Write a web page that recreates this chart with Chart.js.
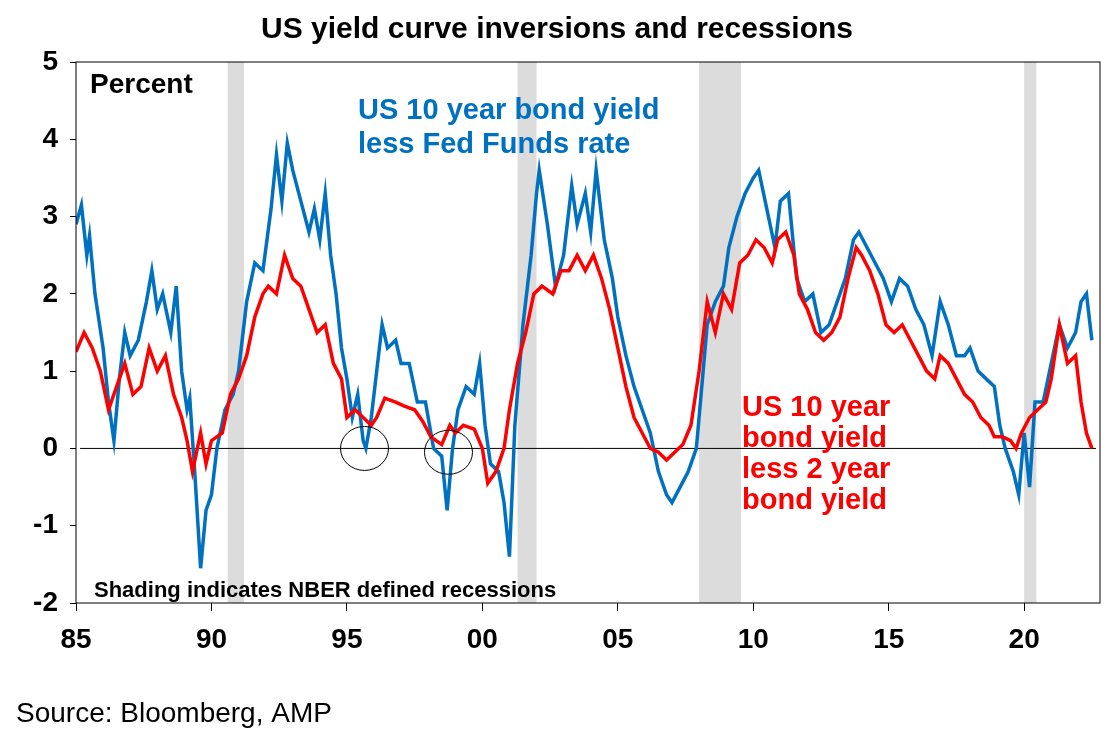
<!DOCTYPE html>
<html>
<head>
<meta charset="utf-8">
<script src="https://cdn.jsdelivr.net/npm/chart.js@4.4.0/dist/chart.umd.min.js"></script>
<style>
  html, body { margin: 0; padding: 0; background: #fff; }
  #wrap { width: 1106px; height: 742px; }
</style>
</head>
<body>
<div id="wrap"><canvas id="yieldChart" width="1106" height="742"></canvas></div>
<script>
// 10y bond yield less Fed Funds rate (approx)
const ffYears = [1985.0,1985.2,1985.4,1985.5,1985.7,1986.0,1986.2,1986.4,1986.6,1986.8,1987.0,1987.3,1987.6,1987.8,1988.0,1988.2,1988.5,1988.7,1988.9,1989.1,1989.2,1989.4,1989.6,1989.8,1990.0,1990.2,1990.5,1990.8,1991.0,1991.3,1991.6,1991.9,1992.2,1992.4,1992.6,1992.8,1993.0,1993.3,1993.6,1993.8,1994.0,1994.2,1994.4,1994.6,1994.8,1995.0,1995.2,1995.4,1995.6,1995.7,1995.9,1996.1,1996.3,1996.5,1996.8,1997.0,1997.3,1997.6,1997.9,1998.2,1998.5,1998.7,1998.9,1999.1,1999.4,1999.7,1999.9,2000.1,2000.3,2000.6,2000.8,2001.0,2001.2,2001.5,2001.8,2002.0,2002.1,2002.4,2002.7,2003.0,2003.3,2003.5,2003.8,2004.0,2004.2,2004.5,2004.8,2005.0,2005.3,2005.6,2005.9,2006.2,2006.5,2006.8,2007.0,2007.3,2007.6,2007.9,2008.1,2008.3,2008.6,2008.9,2009.1,2009.4,2009.7,2010.0,2010.2,2010.5,2010.8,2011.0,2011.3,2011.6,2011.9,2012.2,2012.5,2012.8,2013.0,2013.4,2013.7,2013.9,2014.2,2014.5,2014.8,2015.1,2015.4,2015.7,2016.0,2016.3,2016.6,2016.9,2017.2,2017.5,2017.8,2018.0,2018.3,2018.6,2018.9,2019.1,2019.3,2019.6,2019.8,2020.0,2020.2,2020.4,2020.7,2021.0,2021.3,2021.6,2021.9,2022.1,2022.3,2022.5];
const ffValues = [2.9,3.15,2.5,2.75,2.0,1.3,0.6,0.1,0.9,1.5,1.2,1.4,1.9,2.3,1.8,2.0,1.5,2.1,1.0,0.5,0.65,-0.4,-1.55,-0.8,-0.6,0.0,0.5,0.7,1.0,1.9,2.4,2.3,3.1,3.8,3.2,3.95,3.6,3.2,2.8,3.1,2.7,3.3,2.5,2.0,1.3,0.9,0.4,0.7,0.1,0.0,0.4,1.0,1.6,1.3,1.4,1.1,1.1,0.6,0.6,0.0,-0.1,-0.8,0.0,0.5,0.8,0.7,1.1,0.3,-0.2,-0.3,-0.7,-1.4,0.3,1.6,2.5,3.3,3.6,2.9,2.1,2.5,3.4,2.9,3.3,2.8,3.6,2.7,2.2,1.7,1.2,0.8,0.5,0.2,-0.3,-0.6,-0.7,-0.5,-0.3,0.0,0.8,1.6,1.9,2.1,2.6,3.0,3.3,3.5,3.6,3.1,2.6,3.2,3.3,2.2,1.9,2.0,1.5,1.6,1.8,2.2,2.7,2.8,2.6,2.4,2.2,1.9,2.2,2.1,1.8,1.6,1.2,1.9,1.6,1.2,1.2,1.3,1.0,0.9,0.8,0.3,0.0,-0.3,-0.6,0.2,-0.5,0.6,0.6,1.1,1.6,1.3,1.5,1.9,2.0,1.4];

// 10y bond yield less 2y bond yield
const tsYears = [1985.0,1985.3,1985.6,1985.9,1986.2,1986.5,1986.8,1987.1,1987.4,1987.7,1988.0,1988.3,1988.6,1988.9,1989.1,1989.3,1989.6,1989.8,1990.0,1990.4,1990.7,1991.0,1991.3,1991.6,1991.9,1992.1,1992.4,1992.7,1993.0,1993.3,1993.6,1993.9,1994.2,1994.5,1994.8,1995.0,1995.3,1995.6,1995.9,1996.1,1996.4,1996.8,1997.1,1997.5,1997.8,1998.1,1998.5,1998.8,1999.0,1999.3,1999.7,2000.0,2000.2,2000.5,2000.8,2001.0,2001.3,2001.6,2001.9,2002.2,2002.6,2002.9,2003.2,2003.5,2003.8,2004.1,2004.4,2004.7,2005.0,2005.3,2005.6,2005.9,2006.2,2006.5,2006.8,2007.1,2007.4,2007.7,2008.0,2008.3,2008.6,2008.9,2009.2,2009.5,2009.8,2010.1,2010.4,2010.7,2010.9,2011.2,2011.5,2011.7,2012.0,2012.3,2012.6,2012.9,2013.2,2013.5,2013.8,2014.0,2014.3,2014.6,2014.9,2015.2,2015.5,2015.8,2016.1,2016.4,2016.7,2016.9,2017.2,2017.5,2017.8,2018.1,2018.4,2018.7,2018.9,2019.2,2019.5,2019.7,2019.9,2020.2,2020.5,2020.8,2021.0,2021.3,2021.6,2021.9,2022.1,2022.3,2022.5];
const tsValues = [1.25,1.5,1.3,1.0,0.5,0.8,1.1,0.7,0.8,1.3,1.0,1.2,0.7,0.4,0.1,-0.3,0.2,-0.2,0.1,0.2,0.7,0.9,1.2,1.7,2.0,2.1,2.0,2.5,2.2,2.1,1.8,1.5,1.6,1.1,0.9,0.4,0.5,0.4,0.3,0.4,0.65,0.6,0.55,0.5,0.35,0.15,0.05,0.3,0.2,0.3,0.25,0.0,-0.45,-0.3,0.0,0.5,1.1,1.5,2.0,2.1,2.0,2.3,2.3,2.5,2.3,2.5,2.2,1.8,1.3,0.8,0.4,0.2,0.0,-0.05,-0.15,-0.05,0.05,0.3,1.0,1.9,1.5,2.0,1.8,2.4,2.5,2.7,2.6,2.4,2.7,2.8,2.5,2.0,1.8,1.5,1.4,1.5,1.7,2.2,2.6,2.5,2.3,2.0,1.6,1.5,1.6,1.4,1.2,1.0,0.9,1.2,1.1,0.9,0.7,0.6,0.4,0.3,0.15,0.15,0.1,0.0,0.2,0.4,0.5,0.6,0.9,1.6,1.1,1.2,0.6,0.2,0.0];

// NBER recessions [start, end]
const recessions = [[1990.6, 1991.2], [2001.3, 2002.0], [2008.0, 2009.55], [2020.0, 2020.45]];
// circled inversions
const circles = [[1995.65, 0.0], [1998.75, -0.05]];

const xTicks = [1985, 1990, 1995, 2000, 2005, 2010, 2015, 2020];
const FONT = '"Liberation Sans", Arial';

function toPoints(xs, ys) {
    return xs.map((x, i) => ({ x: x, y: ys[i] }));
}

const decor = {
    id: 'decor',
    beforeDatasetsDraw(chart) {
        const { ctx, chartArea, scales } = chart;
        ctx.save();
        ctx.fillStyle = '#dcdcdc';
        recessions.forEach(r => {
            const x1 = scales.x.getPixelForValue(r[0]);
            const x2 = scales.x.getPixelForValue(r[1]);
            ctx.fillRect(x1, chartArea.top, x2 - x1, chartArea.bottom - chartArea.top);
        });
        // zero line
        const y0 = scales.y.getPixelForValue(0);
        ctx.strokeStyle = '#000';
        ctx.lineWidth = 1;
        ctx.beginPath();
        ctx.moveTo(scales.x.getPixelForValue(1985.15), y0);
        ctx.lineTo(chartArea.right - 4, y0);
        ctx.stroke();
        ctx.restore();
    },
    afterDatasetsDraw(chart) {
        const { ctx, chartArea, scales } = chart;
        ctx.save();
        ctx.strokeStyle = '#000';
        ctx.lineWidth = 1;
        circles.forEach(c => {
            ctx.beginPath();
            ctx.ellipse(scales.x.getPixelForValue(c[0]), scales.y.getPixelForValue(c[1]), 24, 22, 0, 0, Math.PI * 2);
            ctx.stroke();
        });
        ctx.strokeRect(chartArea.left, chartArea.top, chartArea.right - chartArea.left, chartArea.bottom - chartArea.top);

        ctx.textBaseline = 'alphabetic';
        ctx.fillStyle = '#000';
        ctx.font = 'bold 30px ' + FONT;
        ctx.textAlign = 'center';
        ctx.fillText('US yield curve inversions and recessions', 557, 38);
        ctx.textAlign = 'left';
        ctx.font = 'bold 28px ' + FONT;
        ctx.fillText('Percent', 90, 93);
        ctx.font = 'bold 22px ' + FONT;
        ctx.fillText('Shading indicates NBER defined recessions', 94, 597);
        ctx.fillStyle = '#0070c0';
        ctx.font = 'bold 29px ' + FONT;
        ctx.fillText('US 10 year bond yield', 358, 119);
        ctx.fillText('less Fed Funds rate', 358, 153);
        ctx.fillStyle = '#ff0000';
        ['US 10 year', 'bond yield', 'less 2 year', 'bond yield'].forEach((t, i) => {
            ctx.fillText(t, 742, 416 + i * 31);
        });
        ctx.fillStyle = '#000';
        ctx.font = '28px ' + FONT;
        ctx.fillText('Source: Bloomberg, AMP', 16, 722);
        ctx.restore();
    }
};

const ctx = document.getElementById('yieldChart').getContext('2d');
new Chart(ctx, {
    type: 'line',
    data: {
        datasets: [
            {
                label: '10y less 2y',
                data: toPoints(tsYears, tsValues),
                borderColor: '#ff0000',
                borderWidth: 3.5,
                pointRadius: 0,
                tension: 0,
            },
            {
                label: '10y less Fed Funds',
                data: toPoints(ffYears, ffValues),
                borderColor: '#0070c0',
                borderWidth: 3.5,
                pointRadius: 0,
                tension: 0,
            },
        ],
    },
    options: {
        responsive: false,
        animation: false,
        layout: { padding: { top: 62, right: 6, left: 0, bottom: 0 } },
        plugins: { legend: { display: false }, tooltip: { enabled: false } },
        scales: {
            x: {
                type: 'linear',
                min: 1985,
                max: 2022.8,
                grid: { display: true, drawOnChartArea: false, color: '#000', tickLength: 8 },
                border: { display: false },
                afterFit: s => { s.height = 139; },
                afterBuildTicks: s => { s.ticks = xTicks.map(v => ({ value: v })); },
                ticks: {
                    color: '#000',
                    font: { size: 28, weight: 'bold', family: FONT },
                    maxRotation: 0,
                    padding: 12,
                    callback: v => String(v % 100).padStart(2, '0'),
                },
            },
            y: {
                min: -2,
                max: 5,
                grid: { display: true, drawOnChartArea: false, color: '#000', tickLength: 6 },
                border: { display: false },
                afterFit: s => { s.width = 76; },
                ticks: {
                    stepSize: 1,
                    color: '#000',
                    font: { size: 28, weight: 'bold', family: FONT },
                    padding: 12,
                },
            },
        },
    },
    plugins: [decor],
});
</script>
</body>
</html>
